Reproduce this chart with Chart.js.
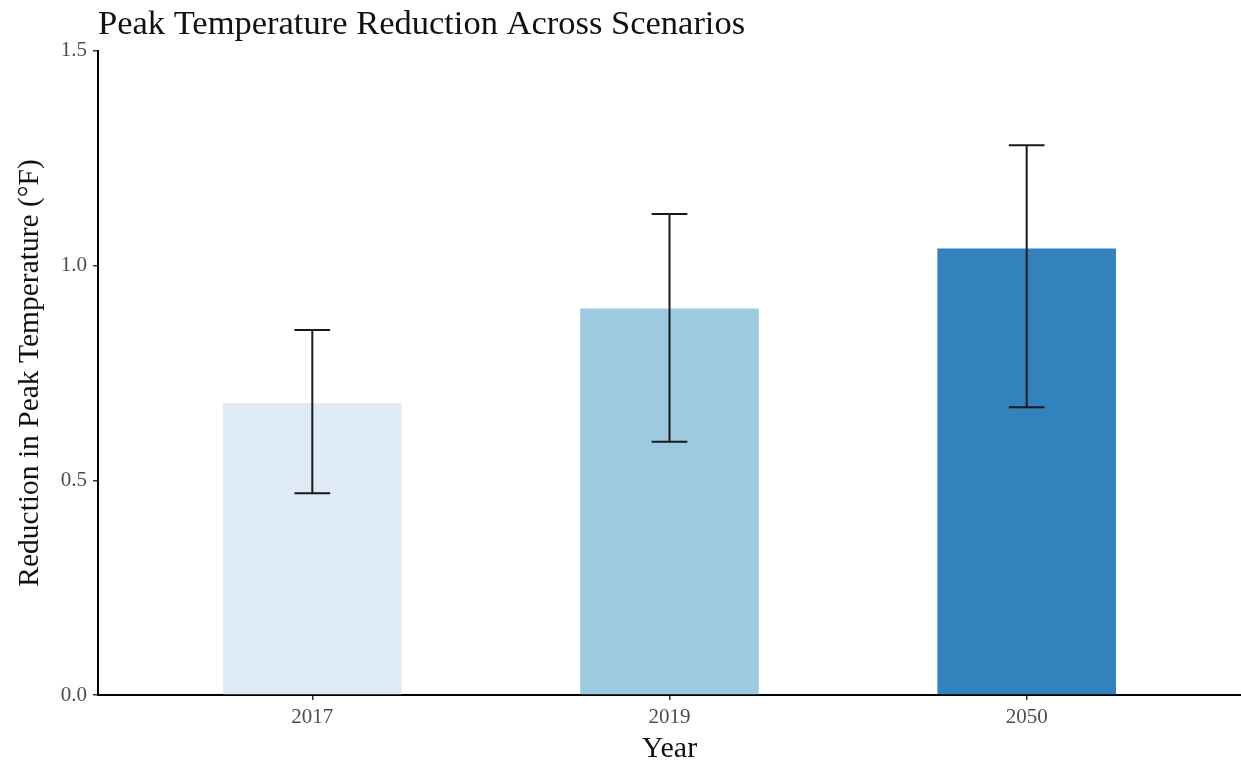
<!DOCTYPE html>
<html>
<head>
<meta charset="utf-8">
<script src="https://cdn.jsdelivr.net/npm/chart.js@4/dist/chart.umd.min.js"></script>
<style>
  html, body { margin: 0; padding: 0; background: #fff; }
  #wrap { width: 1241px; height: 761px; }
</style>
</head>
<body>
<div id="wrap"><canvas id="chartCanvas" width="1241" height="761"></canvas></div>
<script>
const years = ["2017", "2019", "2050"];
const reduction = [0.68, 0.90, 1.04];
const errLow = [0.47, 0.59, 0.67];
const errHigh = [0.85, 1.12, 1.28];
const barColors = ["#DEEBF7", "#9ECAE1", "#3182BD"];
const yTicks = [0, 0.5, 1.0, 1.5];

const serif = "'Liberation Serif', 'Times New Roman', serif";

// error bars drawn through the chart scales
const errorBars = {
  id: "errorBars",
  afterDatasetsDraw(chart) {
    const { ctx, scales: { x, y } } = chart;
    ctx.save();
    ctx.strokeStyle = "#1a1a1a";
    ctx.lineWidth = 2;
    years.forEach((yr, i) => {
      const px = x.getPixelForValue(i + 1);
      const top = y.getPixelForValue(errHigh[i]);
      const bot = y.getPixelForValue(errLow[i]);
      const half = x.getPixelForValue(1.05) - x.getPixelForValue(1);
      ctx.beginPath();
      ctx.moveTo(px, top); ctx.lineTo(px, bot);
      ctx.moveTo(px - half, top); ctx.lineTo(px + half, top);
      ctx.moveTo(px - half, bot); ctx.lineTo(px + half, bot);
      ctx.stroke();
    });
    ctx.restore();
  }
};

const ctx = document.getElementById("chartCanvas").getContext("2d");
new Chart(ctx, {
  type: "bar",
  data: {
    datasets: [{
      data: reduction.map((v, i) => ({ x: i + 1, y: v })),
      backgroundColor: barColors,
      borderWidth: 0,
      barPercentage: 0.5,
      categoryPercentage: 1.0
    }]
  },
  options: {
    responsive: false,
    animation: false,
    layout: { padding: 0 },
    plugins: {
      legend: { display: false },
      tooltip: { enabled: false },
      title: {
        display: true,
        text: "Peak Temperature Reduction Across Scenarios",
        align: "start",
        fullSize: false,
        color: "#111",
        font: { family: serif, size: 34.5, weight: "normal", lineHeight: 1.2 },
        padding: { top: 4, bottom: 5.5 }
      }
    },
    scales: {
      x: {
        type: "linear",
        offset: false,
        min: 0.4,
        max: 3.6,
        afterBuildTicks: (s) => { s.ticks = years.map((_, i) => ({ value: i + 1 })); },
        afterFit: (s) => { s.height = 66; },
        ticks: {
          color: "#4d4d4d",
          font: { family: serif, size: 21 },
          padding: 5,
          callback: (v) => years[v - 1]
        },
        grid: { display: true, offset: false, drawOnChartArea: false, drawTicks: true, tickLength: 5, color: "#333", lineWidth: 1.5 },
        border: { display: true, color: "#000", width: 2 },
        title: {
          display: true,
          text: "Year",
          color: "#111",
          font: { family: serif, size: 30, lineHeight: 0.9 },
          padding: { top: 0, bottom: -1.5 }
        }
      },
      y: {
        min: 0,
        max: 1.5,
        afterBuildTicks: (s) => { s.ticks = yTicks.map(v => ({ value: v })); },
        afterFit: (s) => { s.width = 98; },
        ticks: {
          color: "#4d4d4d",
          font: { family: serif, size: 21 },
          padding: 6,
          callback: (v) => Number(v).toFixed(1)
        },
        grid: { display: true, drawOnChartArea: false, drawTicks: true, tickLength: 5, color: "#333", lineWidth: 1.5 },
        border: { display: true, color: "#000", width: 2 },
        title: {
          display: true,
          text: "Reduction in Peak Temperature (°F)",
          color: "#111",
          font: { family: serif, size: 29.5, lineHeight: 1.2 },
          padding: { top: 13, bottom: 0 }
        }
      }
    }
  },
  plugins: [errorBars]
});
</script>
</body>
</html>
